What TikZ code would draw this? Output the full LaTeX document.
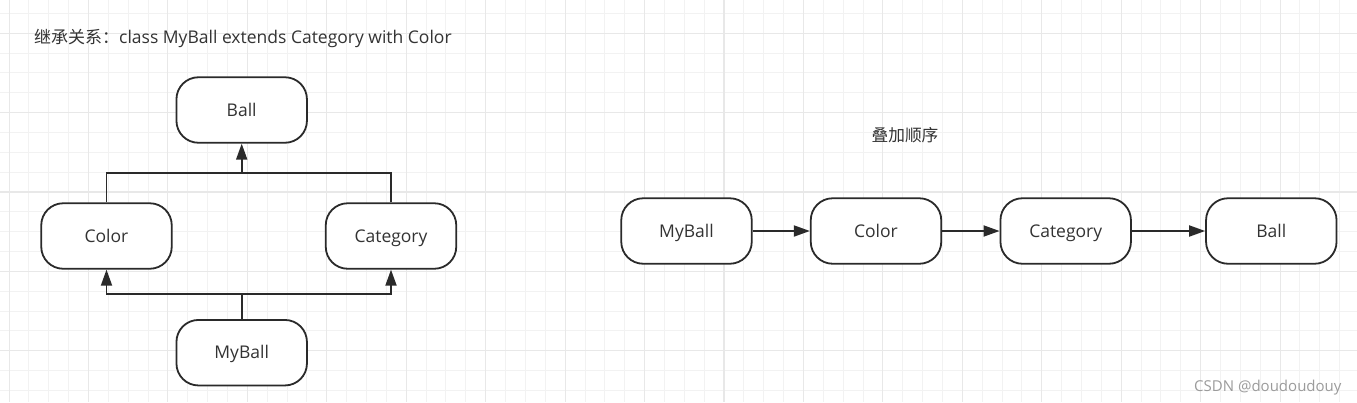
\documentclass[tikz,border=0pt]{standalone}
\usepackage{fontspec}
\setmainfont{Open Sans}
\newfontfamily\cjk{Noto Sans CJK SC}
\usetikzlibrary{arrows.meta}
\definecolor{gridminor}{RGB}{242,242,242}
\definecolor{gridmajor}{RGB}{232,232,232}
\definecolor{ink}{RGB}{42,42,42}
\definecolor{txt}{RGB}{51,51,51}
\definecolor{wm}{RGB}{155,155,155}
\begin{document}
\begin{tikzpicture}[x=1pt,y=-1pt,
  box/.style={draw=ink, line width=1.8pt, fill=white, rounded corners=22pt,
    minimum width=130.5pt, minimum height=65.5pt, inner sep=0pt, text=txt,
    font=\fontsize{17.5}{20}\selectfont, text height=12.5pt, text depth=0pt},
  edge/.style={draw=ink, line width=1.8pt},
  arr/.style={edge, -{Triangle[length=16pt,width=11pt]}},
  label/.style={inner sep=0pt, text=txt},
]
\useasboundingbox (0,0) rectangle (1357,402);
\fill[white] (0,0) rectangle (1357,402);
% grid
\foreach \i in {0,...,67}
  \draw[gridminor, line width=1pt] ({9.06+\i*19.86},0) -- ({9.06+\i*19.86},402);
\foreach \j in {0,...,19}
  \draw[gridminor, line width=1pt] (0,{13.46+\j*19.84}) -- (1357,{13.46+\j*19.84});
\foreach \i in {0,4,...,64}
  \draw[gridmajor, line width=1.1pt] ({9.06+\i*19.86},0) -- ({9.06+\i*19.86},402);
\foreach \j in {1,5,...,17}
  \draw[gridmajor, line width=1.1pt] (0,{13.46+\j*19.84}) -- (1357,{13.46+\j*19.84});

% title
\node[label, anchor=base west, font=\fontsize{17.5}{20}\selectfont] (title) at (34,43.8)
  {{\cjk\fontsize{17}{20}\selectfont 继承关系：}class MyBall extends Category with Color};

% left diagram
\node[box] (Ball) at (241.7,110) {Ball};
\node[box] (Color) at (106.5,236) {Color};
\node[box] (Category) at (391,236) {Category};
\node[box] (MyBall) at (241.7,352.7) {MyBall};
\coordinate (jt) at (241.7,173);
\coordinate (jb) at (241.7,294.3);
\draw[edge] (Color.north) |- (jt);
\draw[edge] (Category.north) |- (jt);
\draw[arr] (jt) -- (Ball.south);
\draw[edge] (MyBall.north) -- (jb);
\draw[arr] (jb) -| (Color.south);
\draw[arr] (jb) -| (Category.south);

% right diagram
\node[label, anchor=base, font=\cjk\fontsize{16.7}{20}\selectfont] (order) at (905,141.8) {叠加顺序};
\node[box] (m2) at (686.5,231) {MyBall};
\node[box] (c2) at (876,231) {Color};
\node[box] (g2) at (1065.7,231) {Category};
\node[box] (b2) at (1271.3,231) {Ball};
\draw[arr] (m2.east) -- (c2.west);
\draw[arr] (c2.east) -- (g2.west);
\draw[arr] (g2.east) -- (b2.west);

% watermark
\node[inner sep=0pt, anchor=base west, text=wm, font=\fontsize{15}{18}\selectfont] (wmark) at (1194,391) {CSDN @doudoudouy};
\end{tikzpicture}
\end{document}
